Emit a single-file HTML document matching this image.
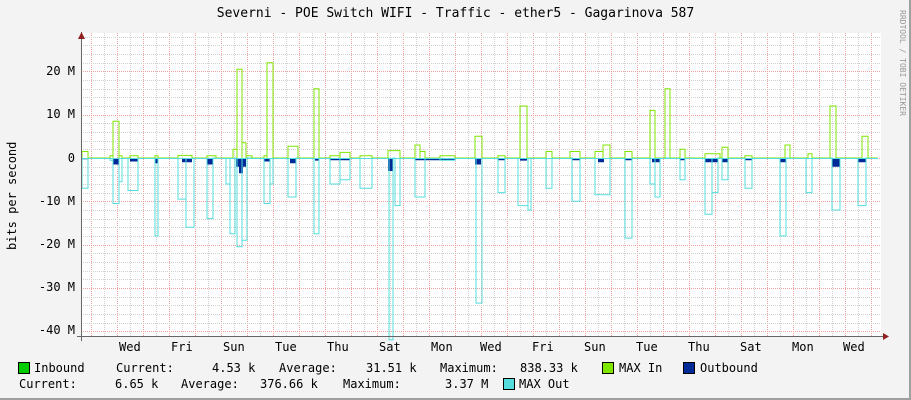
<!DOCTYPE html>
<html><head><meta charset="utf-8"><style>
body{margin:0;background:#f3f3f3}
#w{position:relative;width:911px;height:400px;overflow:hidden;background:#f3f3f3;font-family:"DejaVu Sans Mono","Liberation Mono",monospace;font-size:12px;color:#000}
.t{position:absolute;white-space:pre;line-height:14px}
.b{position:absolute;width:10px;height:10px;border:1px solid #000}
</style></head><body><div id="w">
<svg id="s" width="911" height="400" style="position:absolute;left:0;top:0"></svg>
<div class="t" style="left:0;width:911px;text-align:center;top:7px;font-size:13px">Severni - POE Switch WIFI - Traffic - ether5 - Gagarinova 587</div>
<div class="t" style="left:897px;top:10px;font-size:8px;color:#999;transform-origin:0 0;transform:translate(12px,0) rotate(90deg)">RRDTOOL / TOBI OETIKER</div>
<div class="t" style="left:5px;top:250px;transform-origin:0 0;transform:rotate(-90deg)">bits per second</div>
<div class="t" style="right:836px;top:64px">20 M</div>
<div class="t" style="right:836px;top:107px">10 M</div>
<div class="t" style="right:836px;top:151px">0</div>
<div class="t" style="right:836px;top:194px">-10 M</div>
<div class="t" style="right:836px;top:237px">-20 M</div>
<div class="t" style="right:836px;top:280px">-30 M</div>
<div class="t" style="right:836px;top:323px">-40 M</div>
<div class="t" style="left:119px;top:340px">Wed</div>
<div class="t" style="left:171px;top:340px">Fri</div>
<div class="t" style="left:223px;top:340px">Sun</div>
<div class="t" style="left:275px;top:340px">Tue</div>
<div class="t" style="left:327px;top:340px">Thu</div>
<div class="t" style="left:379px;top:340px">Sat</div>
<div class="t" style="left:431px;top:340px">Mon</div>
<div class="t" style="left:480px;top:340px">Wed</div>
<div class="t" style="left:532px;top:340px">Fri</div>
<div class="t" style="left:584px;top:340px">Sun</div>
<div class="t" style="left:636px;top:340px">Tue</div>
<div class="t" style="left:688px;top:340px">Thu</div>
<div class="t" style="left:740px;top:340px">Sat</div>
<div class="t" style="left:792px;top:340px">Mon</div>
<div class="t" style="left:843px;top:340px">Wed</div>
<div class="b" style="left:18px;top:362px;background:#00cc00"></div>
<div class="t" style="left:34px;top:361px">Inbound</div>
<div class="t" style="left:116px;top:361px">Current:</div>
<div class="t" style="left:212px;top:361px">4.53 k</div>
<div class="t" style="left:279px;top:361px">Average:</div>
<div class="t" style="left:366px;top:361px">31.51 k</div>
<div class="t" style="left:440px;top:361px">Maximum:</div>
<div class="t" style="left:520px;top:361px">838.33 k</div>
<div class="b" style="left:602px;top:362px;background:#7fe600"></div>
<div class="t" style="left:619px;top:361px">MAX In</div>
<div class="b" style="left:683px;top:362px;background:#002a97"></div>
<div class="t" style="left:700px;top:361px">Outbound</div>
<div class="t" style="left:19px;top:377px">Current:</div>
<div class="t" style="left:115px;top:377px">6.65 k</div>
<div class="t" style="left:181px;top:377px">Average:</div>
<div class="t" style="left:260px;top:377px">376.66 k</div>
<div class="t" style="left:343px;top:377px">Maximum:</div>
<div class="t" style="left:445px;top:377px">3.37 M</div>
<div class="b" style="left:503px;top:378px;background:#55dddd"></div>
<div class="t" style="left:519px;top:377px">MAX Out</div>
</div>
<script>
var s=document.getElementById('s'),h='';
h+='<rect x="0" y="0" width="911" height="400" fill="#f3f3f3"/>';
h+='<rect x="909" y="0" width="2" height="400" fill="#a0a0a0"/><rect x="0" y="398" width="911" height="2" fill="#a0a0a0"/>';
h+='<rect x="81" y="33" width="800" height="304" fill="#fff"/>';
var Z=158,K=4.33;
function y(v){return Z-v*K}
for(var x=91;x<880;x+=13){var red=((x-91)%26==0);h+='<line x1="'+(x+.5)+'" y1="33" x2="'+(x+.5)+'" y2="337" stroke="'+(red?'#f0a0a0':'#d0d0d0')+'" stroke-dasharray="1,1"/>';}
for(var v=-40;v<=28;v+=2){var yy=Math.round(y(v))+.5;h+='<line x1="81" y1="'+yy+'" x2="881" y2="'+yy+'" stroke="'+(v%10==0?'#f0a0a0':'#d0d0d0')+'" stroke-dasharray="1,1"/>';}
function path(segs){var d='M81,'+Z;segs.forEach(function(g){d+=' L'+g[0]+','+Z+' L'+g[0]+','+y(g[2]).toFixed(1)+' L'+g[1]+','+y(g[2]).toFixed(1)+' L'+g[1]+','+Z;});return d+' L878,'+Z;}
var mi=[[82,88,1.5],[110,113,0.5],[113,119,8.5],[119,122,0.5],[130,138,0.5],[155,158,0.5],[178,192,0.6],[207,216,0.5],[233,237,2],[237,242,20.5],[242,246,3.5],[246,252,0.5],[264,267,0.5],[267,273,22],[288,298,2.7],[314,319,16],[330,340,0.5],[340,350,1.3],[360,372,0.5],[388,400,1.7],[415,420,3],[420,425,1.5],[440,455,0.5],[475,482,5],[498,505,0.5],[520,527,12],[546,552,1.5],[570,580,1.5],[595,603,1.5],[603,610,3],[625,632,1.5],[650,655,11],[665,670,16],[680,685,2],[705,720,1],[722,728,2.5],[745,752,0.5],[785,790,3],[808,812,1],[830,836,12],[862,868,5]];
var mo=[[82,88,-7],[110,113,-0.5],[113,119,-10.5],[119,122,-5.5],[128,138,-7.5],[155,158,-18],[178,186,-9.5],[186,194,-16],[207,213,-14],[226,230,-6],[230,235,-17.5],[237,242,-20.5],[242,247,-19],[264,270,-10.5],[270,273,-6],[288,296,-9],[314,319,-17.5],[330,340,-6],[340,350,-5],[360,372,-7],[389,393,-42],[395,400,-11],[415,425,-9],[440,455,-0.5],[476,482,-33.5],[498,505,-8],[518,528,-11],[528,531,-12],[546,552,-7],[572,580,-10],[595,610,-8.5],[625,632,-18.5],[650,655,-6],[655,660,-9],[680,685,-5],[705,712,-13],[712,718,-8],[722,728,-5],[745,752,-7],[780,786,-18],[806,812,-8],[832,840,-12],[858,866,-11]];
var ob=[[82,88,-0.3],[113,119,-1.5],[130,138,-0.8],[155,158,-1.2],[182,192,-1],[207,213,-1.5],[236,246,-2],[239,243,-3.5],[264,270,-0.8],[290,296,-1.2],[315,319,-0.6],[330,350,-0.5],[388,393,-3],[415,455,-0.5],[475,481,-1.5],[498,505,-0.5],[520,527,-0.6],[572,580,-0.5],[598,604,-1],[625,632,-0.5],[652,660,-1],[680,685,-0.5],[705,718,-1],[722,728,-1],[745,752,-0.5],[780,786,-1],[832,840,-2],[858,866,-1]];
h+='<path d="'+path(ob)+'Z" fill="#002a97"/>';
h+='<path d="'+path(mo)+'" fill="none" stroke="#55dddd" stroke-width="1"/>';
h+='<path d="'+path(mi)+'" fill="none" stroke="#7fe600" stroke-width="1"/>';
h+='<line x1="81" y1="'+Z+'.5" x2="878" y2="'+Z+'.5" stroke="#55dddd"/>';
h+='<line x1="81.5" y1="32" x2="81.5" y2="341" stroke="#666"/><line x1="77" y1="336.5" x2="884" y2="336.5" stroke="#666"/>';
h+='<polygon points="78,39 85,39 81.5,32" fill="#912020"/><polygon points="883,333 883,340 889,336.5" fill="#912020"/>';
s.innerHTML=h;
</script>
</body></html>
